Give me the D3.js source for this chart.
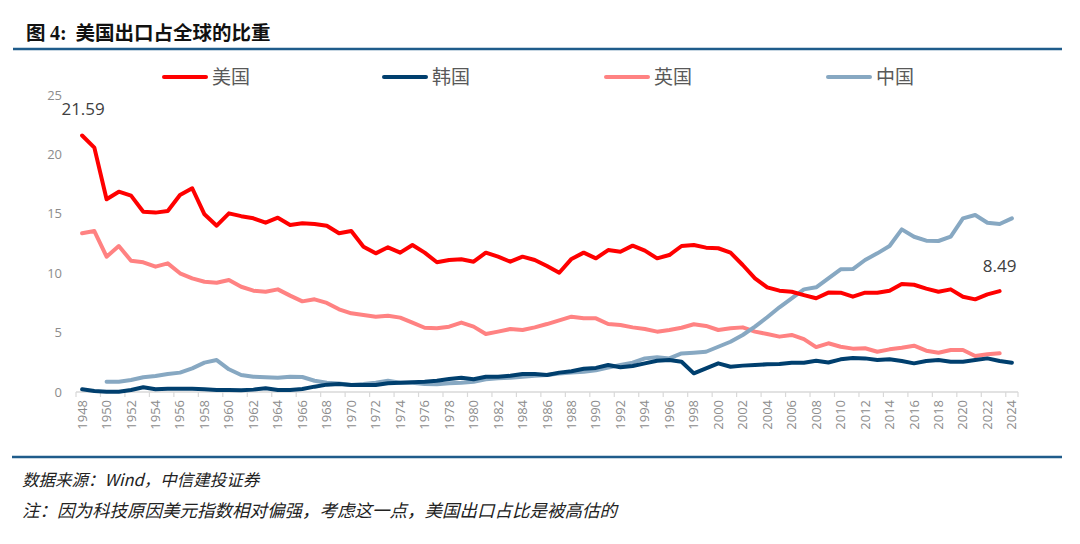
<!DOCTYPE html>
<html>
<head>
<meta charset="utf-8">
<script src="https://cdn.jsdelivr.net/npm/d3@7"></script>
<style>
  body { margin: 0; background: #fff; }
  svg text { font-family: "Noto Sans CJK SC", "Noto Sans", sans-serif; }
</style>
</head>
<body>
<div id="chart"></div>
<script>
const width = 1080;
const height = 544;

const years = d3.range(1948, 2025);
const seriesNames = ["美国", "韩国", "英国", "中国"];
const seriesColors = ["#ff0000", "#003f6e", "#ff8282", "#87a8c2"];

// 美国 1948-2023
const usValues = [21.59, 20.57, 16.22, 16.86, 16.53, 15.18, 15.1, 15.24, 16.58, 17.15,
  14.96, 14.0, 15.04, 14.8, 14.62, 14.25, 14.67, 14.06, 14.2, 14.15,
  14.0, 13.36, 13.55, 12.23, 11.67, 12.18, 11.73, 12.37, 11.73, 10.92,
  11.11, 11.17, 10.97, 11.73, 11.39, 10.97, 11.39, 11.11, 10.6, 10.04,
  11.2, 11.73, 11.25, 11.95, 11.81, 12.32, 11.9, 11.25, 11.53, 12.29,
  12.37, 12.15, 12.1, 11.73, 10.69, 9.57, 8.81, 8.53, 8.44, 8.16,
  7.89, 8.37, 8.36, 8.02, 8.36, 8.36, 8.53, 9.09, 9.03, 8.7,
  8.44, 8.64, 8.02, 7.8, 8.22, 8.49];
// 韩国 1948-2024
const krValues = [0.23, 0.08, 0.02, 0.03, 0.17, 0.4, 0.23, 0.28, 0.28, 0.28,
  0.23, 0.17, 0.17, 0.15, 0.2, 0.31, 0.17, 0.17, 0.25, 0.45,
  0.62, 0.67, 0.59, 0.59, 0.59, 0.73, 0.78, 0.82, 0.87, 0.95,
  1.09, 1.2, 1.07, 1.29, 1.29, 1.37, 1.52, 1.52, 1.43, 1.63,
  1.75, 1.95, 2.03, 2.27, 2.08, 2.19, 2.41, 2.63, 2.69, 2.55,
  1.57, 1.99, 2.41, 2.13, 2.22, 2.27, 2.33, 2.36, 2.47, 2.47,
  2.63, 2.48, 2.75, 2.86, 2.83, 2.69, 2.75, 2.61, 2.41, 2.61,
  2.69, 2.55, 2.55, 2.69, 2.83, 2.61, 2.47];
// 英国 1948-2023
const ukValues = [13.36, 13.55, 11.39, 12.29, 11.05, 10.92, 10.55, 10.83, 9.99, 9.57,
  9.28, 9.2, 9.43, 8.86, 8.53, 8.44, 8.64, 8.11, 7.63, 7.8,
  7.5, 6.96, 6.62, 6.48, 6.34, 6.42, 6.26, 5.84, 5.41, 5.36,
  5.5, 5.84, 5.5, 4.88, 5.08, 5.3, 5.22, 5.44, 5.72, 6.03,
  6.34, 6.2, 6.2, 5.72, 5.64, 5.44, 5.3, 5.08, 5.22, 5.41,
  5.7, 5.56, 5.22, 5.36, 5.44, 5.08, 4.88, 4.66, 4.8, 4.45,
  3.78, 4.1, 3.81, 3.65, 3.68, 3.39, 3.59, 3.73, 3.9, 3.48,
  3.31, 3.54, 3.54, 3.03, 3.17, 3.26];
// 中国 1950-2024
const cnValues = [0.87, 0.87, 1.01, 1.24, 1.35, 1.52, 1.63, 1.99, 2.47, 2.69,
  1.91, 1.43, 1.29, 1.24, 1.2, 1.29, 1.26, 0.95, 0.78, 0.72,
  0.59, 0.67, 0.78, 0.95, 0.78, 0.78, 0.67, 0.65, 0.73, 0.78,
  0.87, 1.07, 1.15, 1.2, 1.29, 1.37, 1.43, 1.55, 1.65, 1.71,
  1.83, 2.05, 2.27, 2.47, 2.83, 2.92, 2.83, 3.25, 3.31, 3.39,
  3.81, 4.23, 4.8, 5.5, 6.29, 7.13, 7.89, 8.64, 8.81, 9.57,
  10.33, 10.35, 11.11, 11.67, 12.29, 13.69, 13.07, 12.74, 12.71, 13.07,
  14.62, 14.9, 14.25, 14.14, 14.62];

const yTicks = [0, 5, 10, 15, 20, 25];
const xLabelYears = years.filter(y => y % 2 === 0);

const series = [
  { name: seriesNames[0], color: seriesColors[0], start: 1948, values: usValues },
  { name: seriesNames[1], color: seriesColors[1], start: 1948, values: krValues },
  { name: seriesNames[2], color: seriesColors[2], start: 1948, values: ukValues },
  { name: seriesNames[3], color: seriesColors[3], start: 1950, values: cnValues }
];

const svg = d3.select("#chart")
    .append("svg")
    .attr("width", width)
    .attr("height", height);

// title + rules
const title = svg.append("text")
    .attr("x", 26)
    .attr("y", 40)
    .attr("font-size", 19.5)
    .attr("font-weight", "bold")
    .attr("fill", "#111");
title.append("tspan").text("图 ");
title.append("tspan")
    .style("font-family", "'Liberation Serif', serif")
    .attr("font-size", 20)
    .text("4:");
title.append("tspan").attr("dx", 9).text("美国出口占全球的比重");

svg.append("line")
    .attr("x1", 13).attr("x2", 1062)
    .attr("y1", 49).attr("y2", 49)
    .attr("stroke", "#1f5c8b")
    .attr("stroke-width", 2.5);

svg.append("line")
    .attr("x1", 12).attr("x2", 1062)
    .attr("y1", 457).attr("y2", 457)
    .attr("stroke", "#1f5c8b")
    .attr("stroke-width", 2.5);

svg.append("text")
    .attr("x", 22).attr("y", 486)
    .attr("font-size", 16.5)
    .attr("font-style", "italic")
    .attr("fill", "#222")
    .text("数据来源：Wind，中信建投证券");

svg.append("text")
    .attr("x", 22).attr("y", 517)
    .attr("font-size", 17.5)
    .attr("font-style", "italic")
    .attr("fill", "#222")
    .text("注：因为科技原因美元指数相对偏强，考虑这一点，美国出口占比是被高估的");

// scales
const x = d3.scaleBand()
    .domain(years)
    .range([76, 1018])
    .padding(0);

const y = d3.scaleLinear()
    .domain([0, 25])
    .range([392, 95]);

const cx = d => x(d) + x.bandwidth() / 2;

// y axis labels
svg.append("g")
    .attr("transform", "translate(62,0)")
    .call(d3.axisLeft(y).tickValues(yTicks).tickSize(0).tickPadding(0))
    .call(g => g.select(".domain").remove())
    .call(g => g.selectAll("text")
        .attr("font-size", 13)
        .attr("fill", "#8c8c8c")
        .style("font-family", "'Open Sans', 'Noto Sans', sans-serif"));

// x axis
svg.append("line")
    .attr("x1", 76).attr("x2", 1018)
    .attr("y1", y(0)).attr("y2", y(0))
    .attr("stroke", "#d9d9d9")
    .attr("stroke-width", 1.5);

svg.append("g")
    .selectAll("line")
    .data(xLabelYears.concat([2025]))
    .join("line")
    .attr("x1", d => d === 2025 ? 1018 : x(d))
    .attr("x2", d => d === 2025 ? 1018 : x(d))
    .attr("y1", y(0))
    .attr("y2", y(0) + 5)
    .attr("stroke", "#d9d9d9")
    .attr("stroke-width", 1.2);

svg.append("g")
    .selectAll("text")
    .data(xLabelYears)
    .join("text")
    .attr("transform", d => `translate(${cx(d) + 4.5},${y(0) + 8}) rotate(-90)`)
    .attr("text-anchor", "end")
    .attr("font-size", 13)
    .attr("fill", "#8c8c8c")
    .style("font-family", "'Open Sans', 'Noto Sans', sans-serif")
    .text(d => d);

// lines
const line = d3.line()
    .x(d => cx(d.year))
    .y(d => y(d.value));

const drawOrder = [2, 3, 1, 0];
drawOrder.forEach(i => {
  const s = series[i];
  const pts = s.values.map((v, k) => ({ year: s.start + k, value: v }));
  svg.append("path")
      .datum(pts)
      .attr("fill", "none")
      .attr("stroke", s.color)
      .attr("stroke-width", 4)
      .attr("stroke-linejoin", "round")
      .attr("stroke-linecap", "round")
      .attr("d", line);
});

// data labels
svg.append("text")
    .attr("x", cx(1948) + 1)
    .attr("y", y(21.59) - 21)
    .attr("text-anchor", "middle")
    .attr("font-size", 17)
    .attr("fill", "#404040")
    .style("font-family", "'Open Sans', 'Noto Sans', sans-serif")
    .text("21.59");

svg.append("text")
    .attr("x", cx(2023))
    .attr("y", y(8.49) - 19)
    .attr("text-anchor", "middle")
    .attr("font-size", 17)
    .attr("fill", "#404040")
    .style("font-family", "'Open Sans', 'Noto Sans', sans-serif")
    .text("8.49");

// legend
const legendX = [164, 384, 606, 828];
const legend = svg.append("g");
series.forEach((s, i) => {
  legend.append("line")
      .attr("x1", legendX[i]).attr("x2", legendX[i] + 42)
      .attr("y1", 77).attr("y2", 77)
      .attr("stroke", s.color)
      .attr("stroke-width", 4)
      .attr("stroke-linecap", "round");
  legend.append("text")
      .attr("x", legendX[i] + 48)
      .attr("y", 84)
      .attr("font-size", 19)
      .attr("fill", "#595959")
      .text(s.name);
});
</script>
</body>
</html>
